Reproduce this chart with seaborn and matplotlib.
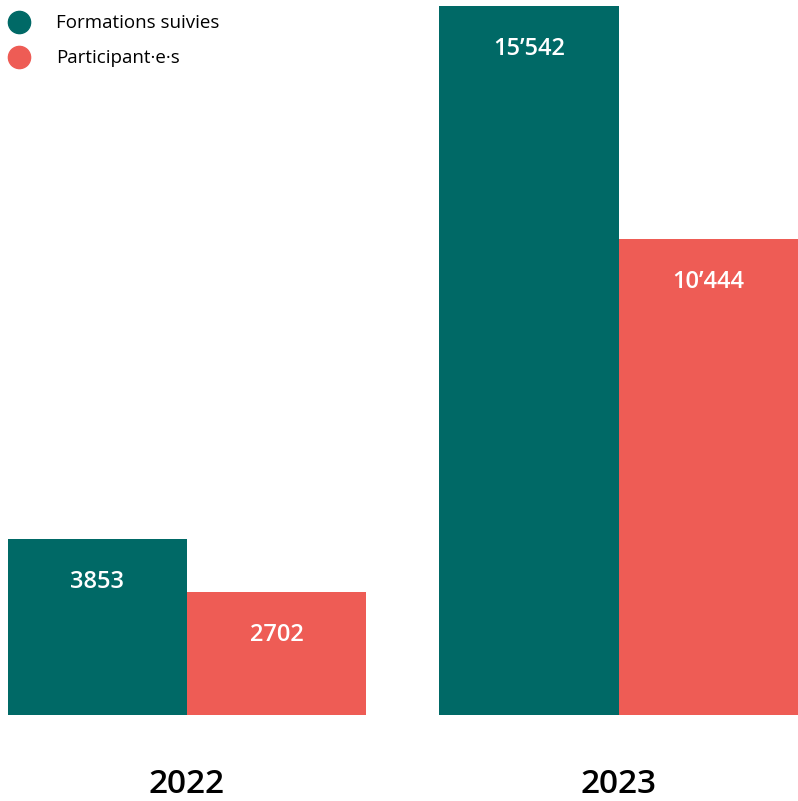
import matplotlib.pyplot as plt
import matplotlib.lines as mlines
import pandas as pd
import seaborn as sns

years = ["2022", "2023"]
series = ["Formations suivies", "Participant·e·s"]
formations = [3853, 15542]
participants = [2702, 10444]
value_labels = {"Formations suivies": ["3853", "15’542"],
                "Participant·e·s": ["2702", "10’444"]}
colors = ["#006966", "#EE5C55"]

df = pd.DataFrame({
    "year": years * 2,
    "serie": [series[0]] * 2 + [series[1]] * 2,
    "value": formations + participants,
})

sns.set_style("white")
plt.rcParams["font.family"] = ["Open Sans", "Noto Sans", "DejaVu Sans"]

fig = plt.figure(figsize=(7.98, 8.01), dpi=100)
ax = fig.add_axes([7.5 / 798, 86 / 801, 790.5 / 798, 709 / 801])

sns.barplot(data=df, x="year", y="value", hue="serie", palette=colors,
            width=0.83, saturation=1, legend=False, linewidth=0, ax=ax)

ax.set_xlim(-0.415, 1.415)
ax.set_ylim(0, max(formations))

# white value labels near the top of each bar
for cont, name in zip(ax.containers, series):
    for bar, lab in zip(cont, value_labels[name]):
        ax.annotate(lab, (bar.get_x() + bar.get_width() / 2, bar.get_height()),
                    xytext=(0, -31), textcoords="offset points",
                    ha="center", va="center", color="white", fontsize=17,
                    fontweight="semibold")

ax.set_xlabel("")
ax.set_ylabel("")
ax.set_yticks([])
ax.tick_params(axis="x", length=0, pad=38, labelsize=24)
ax.set_xticks([0, 1])
ax.set_xticklabels(years, color="black", fontweight="semibold")
sns.despine(ax=ax, left=True, bottom=True)

handles = [mlines.Line2D([], [], linestyle="none", marker="o", markersize=16,
                         markerfacecolor=c, markeredgecolor=c, label=s)
           for c, s in zip(colors, series)]
fig.legend(handles=handles, loc="upper left", bbox_to_anchor=(-0.021, 1.003),
           frameon=False, fontsize=13.5, handletextpad=1.0, labelspacing=0.9,
           labelcolor="black")

fig.savefig("out.png", dpi=100)
